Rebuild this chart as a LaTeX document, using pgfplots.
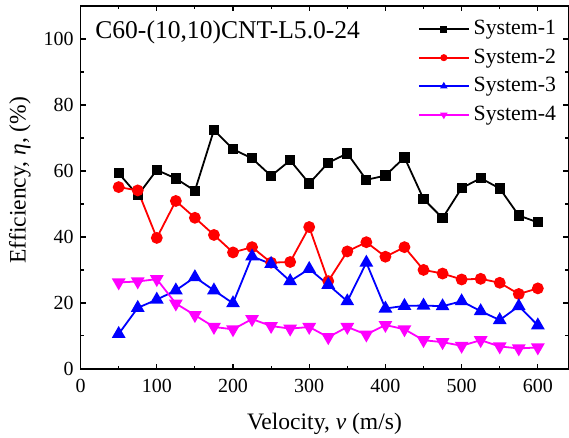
\documentclass[border=0pt]{standalone}
\usepackage{fontspec}
\setmainfont{Liberation Serif}
\usepackage{pgfplots}
\pgfplotsset{compat=1.18}
\usetikzlibrary{calc}
\definecolor{mag}{RGB}{255,0,255}
\pgfplotstableread{
v s1 s2 s3 s4
50 59.3 55.1 10.6 26.2
75 52.6 54.1 18.5 26.5
100 60.3 39.7 21.0 27.2
125 57.7 50.9 23.8 19.8
150 54.0 45.8 27.8 16.3
175 72.4 40.6 23.8 12.7
200 66.6 35.3 19.9 12.0
225 63.8 36.9 34.1 15.1
250 58.5 32.2 31.8 13.0
275 63.2 32.4 26.6 12.2
300 56.2 43.0 30.3 12.7
325 62.5 26.6 25.5 9.6
350 65.3 35.6 20.5 12.7
375 57.3 38.4 32.2 10.4
400 58.6 34.0 18.3 13.3
425 64.1 36.9 19.1 12.0
450 51.5 30.0 19.2 8.7
475 45.7 28.9 19.0 8.1
500 54.8 27.1 20.5 7.0
525 57.8 27.3 17.5 8.7
550 54.7 26.1 14.8 6.8
575 46.5 22.7 19.0 6.2
600 44.4 24.4 13.2 6.5
}\datatable
\begin{document}
\begin{tikzpicture}
\begin{axis}[
  scale only axis, width=244.2pt, height=181.7pt,
  xmin=0, xmax=640, ymin=0, ymax=110,
  xtick={0,100,...,600}, ytick={0,20,...,100},
  minor x tick num=1, minor y tick num=1,
  tick align=inside,
  major tick length=2.6pt, minor tick length=1.6pt,
  axis line style={line width=0.7pt},
  every tick/.style={black, line width=0.6pt},
  /pgf/number format/assume math mode=true,
  tick label style={font=\fontsize{10}{11}\selectfont},
  xticklabel style={yshift=-1.5pt},
  xlabel={Velocity, \textit{v} (m/s)},
  ylabel={Efficiency, \textit{η}, (\%)},
  label style={font=\fontsize{11.8}{13}\selectfont},
  xlabel style={at={(axis description cs:0.5,0)}, anchor=center, yshift=-27.5pt},
  ylabel style={at={(axis description cs:-0.1243,0.52)}, anchor=center},
  legend style={draw=none, fill=none, at={(1,1)}, anchor=north east, xshift=-1pt, yshift=-3pt,
    font=\fontsize{10.9}{12}\selectfont, row sep=1.6pt},
  legend cell align=left,
  legend image code/.code={\draw[mark repeat=2, mark phase=2, mark size=1.3pt] plot coordinates {(0pt,0pt) (12.5pt,0pt) (25pt,0pt)};},
  every axis plot/.append style={line width=0.9pt},
]
\addplot[black, mark=square*, mark size=2.1pt, mark options={solid}] table[x=v, y=s1] {\datatable};
\addlegendentry{System-1}
\addplot[red, mark=*, mark size=2.5pt, mark options={solid}] table[x=v, y=s2] {\datatable};
\addlegendentry{System-2}
\addplot[blue, mark=triangle*, mark size=3.1pt, mark options={solid}] table[x=v, y=s3] {\datatable};
\addlegendentry{System-3}
\addplot[mag, mark=triangle*, mark size=3.1pt, mark options={solid, rotate=180}] table[x=v, y=s4] {\datatable};
\addlegendentry{System-4}
\node[anchor=west, font=\fontsize{12.8}{14}\selectfont, inner sep=0pt] at (axis description cs:0.0295,0.928) {C60-(10,10)CNT-L5.0-24};
\end{axis}
\pgfresetboundingbox
\path[use as bounding box] ($(current axis.south west)+(-40.35pt,-34.35pt)$) rectangle ($(current axis.north east)+(0.35pt,3pt)$);
\end{tikzpicture}
\end{document}
